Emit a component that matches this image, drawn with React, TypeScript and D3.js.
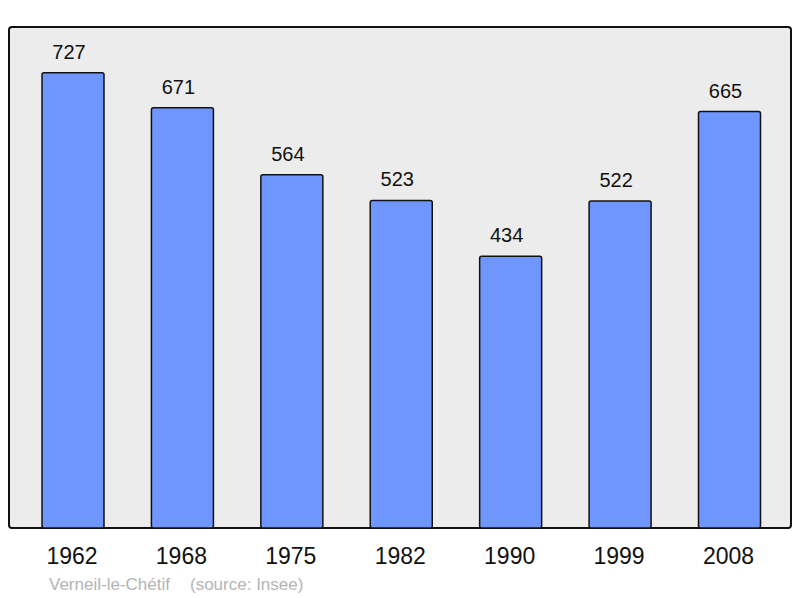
import * as d3 from "d3";
import { useRef, useEffect } from "react";

// Einwohnerzahlen
const years = ["1962", "1968", "1975", "1982", "1990", "1999", "2008"];
const population = [727, 671, 564, 523, 434, 522, 665];
const commune = "Verneil-le-Chétif";
const source = "(source: Insee)";

export default function App() {
  const svgRef = useRef<SVGSVGElement | null>(null);

  useEffect(() => {
    if (!svgRef.current) return;
    const width = 800;
    const height = 598;
    const plot = { left: 9, top: 27, right: 791, bottom: 528 };
    const barWidth = 62;

    const svg = d3.select(svgRef.current);
    svg.selectAll("*").remove();
    svg.attr("width", width).attr("height", height)
      .style("font-family", "'Liberation Sans', Arial, sans-serif");

    const x = d3.scalePoint<string>().domain(years).range([73, 729.5]);
    const y = d3.scaleLinear().domain([0, 800]).range([plot.bottom, plot.top]);

    // Hintergrund
    svg.append("rect")
      .attr("x", plot.left).attr("y", plot.top)
      .attr("width", plot.right - plot.left).attr("height", plot.bottom - plot.top)
      .attr("rx", 3)
      .attr("fill", "#ececec")
      .attr("stroke", "#111").attr("stroke-width", 2);

    const bars = svg.append("g");
    bars.selectAll("rect")
      .data(population)
      .join("rect")
      .attr("x", (_, i) => x(years[i])! - barWidth / 2)
      .attr("y", d => y(d))
      .attr("width", barWidth)
      .attr("height", d => plot.bottom - y(d))
      .attr("rx", 2)
      .attr("fill", "#6f96ff")
      .attr("stroke", "#111").attr("stroke-width", 1.5);

    // Werte über den Balken (leicht nach links versetzt wie im Original)
    svg.append("g").selectAll("text")
      .data(population)
      .join("text")
      .attr("x", (_, i) => x(years[i])! - 4)
      .attr("y", d => y(d) - 14)
      .attr("text-anchor", "middle")
      .attr("font-size", 20)
      .attr("fill", "#111")
      .text(d => d);

    // Jahre
    svg.append("g").selectAll("text")
      .data(years)
      .join("text")
      .attr("x", d => x(d)! - 1)
      .attr("y", 564)
      .attr("text-anchor", "middle")
      .attr("font-size", 23)
      .attr("fill", "#111")
      .text(d => d);

    svg.append("text")
      .attr("x", 49).attr("y", 590)
      .attr("font-size", 17)
      .attr("fill", "#b4b4b4")
      .text(commune);

    svg.append("text")
      .attr("x", 190).attr("y", 590)
      .attr("font-size", 17)
      .attr("fill", "#b4b4b4")
      .text(source);
  }, []);

  return <svg ref={svgRef} style={{ position: "absolute", left: 0, top: 0 }}></svg>;
}
